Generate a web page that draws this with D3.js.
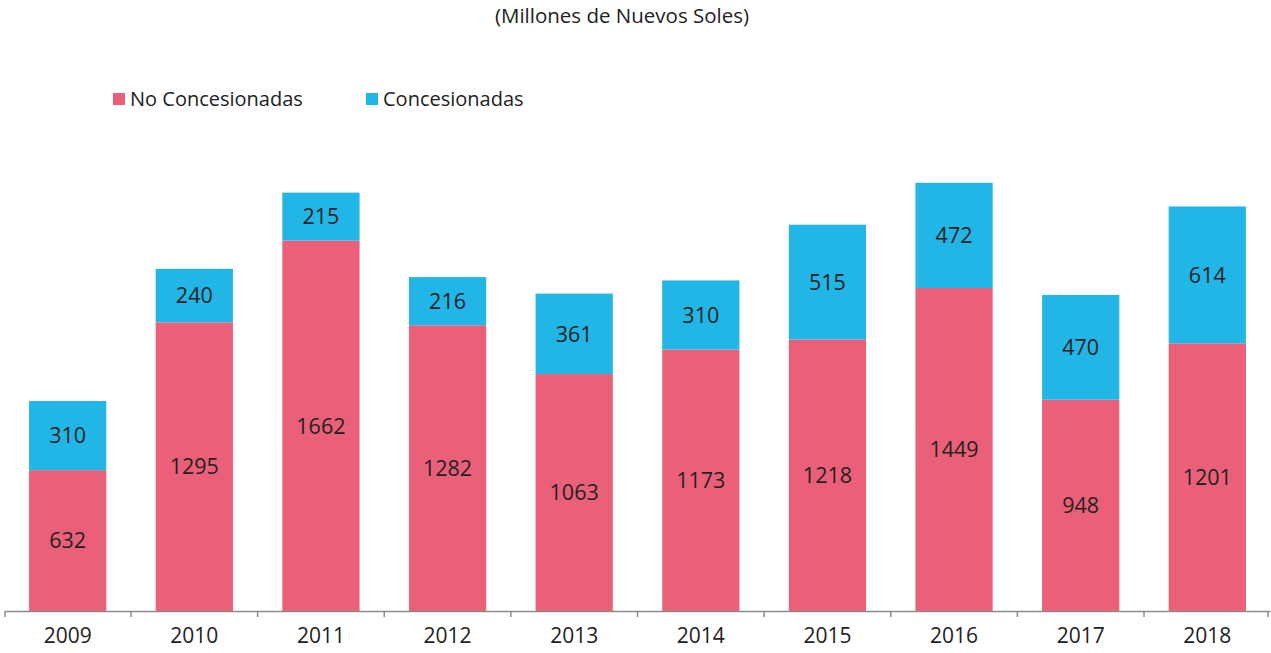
<!DOCTYPE html>
<html lang="en">
<head>
<meta charset="UTF-8">
<title>Millones de Nuevos Soles</title>
<script src="https://d3js.org/d3.v7.min.js"></script>
<style>
  body { margin: 0; background: #fff; }
  text { font-family: "Open Sans", "Noto Sans", sans-serif; fill: #222; }
</style>
</head>
<body>
<svg id="chart" width="1271" height="653"></svg>
<script>
// data
var years = ["2009", "2010", "2011", "2012", "2013", "2014", "2015", "2016", "2017", "2018"];
var noConcesionadas = [632, 1295, 1662, 1282, 1063, 1173, 1218, 1449, 948, 1201];
var concesionadas = [310, 240, 215, 216, 361, 310, 515, 472, 470, 614];
var seriesNames = ["No Concesionadas", "Concesionadas"];
var colors = ["#eb6079", "#22b6e7"];

var svg = d3.select("#chart");

var rows = years.map(function(y, i) {
    return { year: y, no: noConcesionadas[i], si: concesionadas[i] };
});
var stack = d3.stack().keys(["no", "si"])(rows);

var x = d3.scaleBand()
    .domain(years)
    .range([5, 1270])
    .paddingInner(0.39)
    .paddingOuter(0.19);

var y = d3.scaleLinear()
    .domain([0, 2500])
    .range([611, 611 - 2500 * 0.2229]);

// title
svg.append("text")
    .attr("x", 622)
    .attr("y", 23)
    .attr("text-anchor", "middle")
    .style("font-size", "20.5px")
    .text("(Millones de Nuevos Soles)");

// legend
var legendX = [113, 366];
seriesNames.forEach(function(name, i) {
    svg.append("rect")
        .attr("x", legendX[i])
        .attr("y", 93)
        .attr("width", 12)
        .attr("height", 12)
        .attr("fill", colors[i]);
    svg.append("text")
        .attr("x", legendX[i] + 17)
        .attr("y", 106)
        .style("font-size", "20px")
        .text(name);
});

// bars
var layers = svg.selectAll("g.layer")
    .data(stack)
    .enter().append("g")
    .attr("class", "layer")
    .attr("fill", function(d, i) { return colors[i]; });

layers.selectAll("rect")
    .data(function(d) { return d; })
    .enter().append("rect")
    .attr("x", function(d) { return x(d.data.year); })
    .attr("y", function(d) { return y(d[1]); })
    .attr("width", x.bandwidth())
    .attr("height", function(d) { return y(d[0]) - y(d[1]); });

// value labels
layers.selectAll("text")
    .data(function(d) { return d; })
    .enter().append("text")
    .attr("x", function(d) { return x(d.data.year) + x.bandwidth() / 2; })
    .attr("y", function(d) { return (y(d[0]) + y(d[1])) / 2; })
    .attr("dy", "0.36em")
    .attr("text-anchor", "middle")
    .style("font-size", "21.5px")
    .text(function(d) { return d[1] - d[0]; });

// x axis
var axis = svg.append("g")
    .attr("transform", "translate(0,611)")
    .call(d3.axisBottom(x).tickSize(0).tickPadding(17));
axis.select(".domain").attr("stroke", "#8c8c8c").attr("stroke-width", 1.5);
axis.selectAll(".tick text").style("font-size", "21px").attr("fill", "#222");

// tick marks between categories
var bounds = years.map(function(yr) { return x(yr) - x.step() * x.paddingInner() / 2; });
bounds[0] = 5;
bounds.push(1268);
axis.selectAll("line.sep")
    .data(bounds)
    .enter().append("line")
    .attr("class", "sep")
    .attr("x1", function(d) { return d; })
    .attr("x2", function(d) { return d; })
    .attr("y1", 0)
    .attr("y2", 6)
    .attr("stroke", "#8c8c8c")
    .attr("stroke-width", 1.5);
</script>
</body>
</html>
